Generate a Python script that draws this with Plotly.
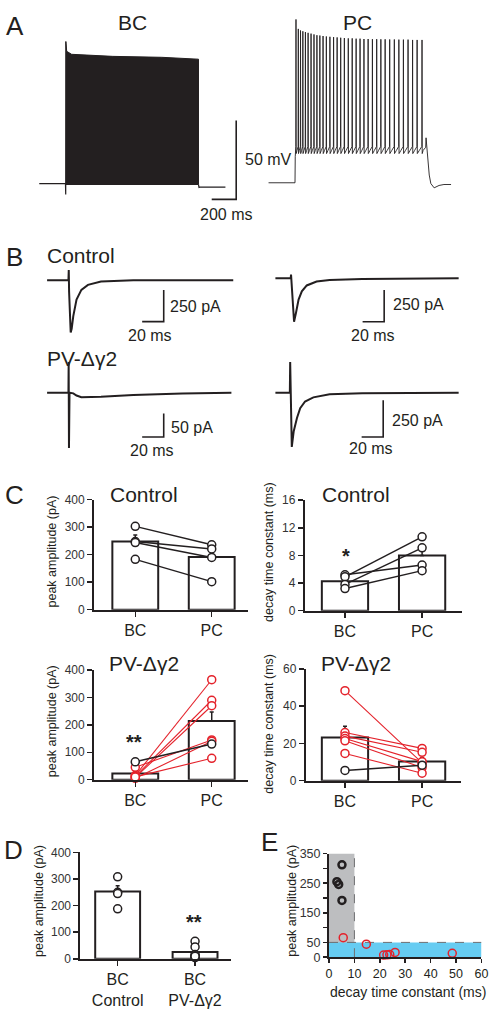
import plotly.graph_objects as go

W, H = 497, 1029
INK = "#231f20"
RED = "#e4222b"
FONT = "Liberation Sans, Arial, sans-serif"

# ======================= DATA =======================
# Panel A - membrane potential (time in ms, voltage in mV)
bc_pre_t = [0, 214, 216, 216.5, 217]
bc_pre_v = [-65, -65, -72, 25, 25]
bc_top_t = [217, 224, 264, 600, 1000, 1300]          # envelope of the dense BC spike train
bc_top_v = [25, 18.8, 16.9, 15.6, 15.0, 13.8]
bc_bottom_v = -65.6
bc_post_t = [1300, 1304, 1310, 1520]
bc_post_v = [-65.6, -67.5, -67.3, -67.3]

pc_pre_t = [0, 216, 218]
pc_pre_v = [-64.5, -64.5, -48]
pc_spike_t = [224, 243, 261, 280, 301, 323, 347, 371, 395, 419, 445, 472, 501, 531,
              560, 589, 619, 651, 683, 715, 747, 779, 813, 848, 883, 917, 952, 989,
              1027, 1064, 1101, 1139, 1176, 1213, 1253]
pc_spike_v = [39, 33, 32, 31.5, 31, 30.5, 30, 29.5, 29, 28.8, 28.5, 28.2, 28, 27.8,
              27.6, 27.4, 27.2, 27, 27, 26.8, 26.8, 26.6, 26.6, 26.5, 26.5, 26.4, 26.4,
              26.3, 26.3, 26.2, 26.2, 26.2, 26, 26, 26]
pc_threshold_v = -41.5
pc_ahp_v = -46.0
pc_adp_v = -44.0
pc_post_t = [1262, 1283, 1286, 1299, 1312, 1325, 1352, 1392, 1432, 1490]
pc_post_v = [-44, -42, -36, -51, -59.6, -65, -67.7, -66.2, -65.6, -65.6]
scale_a = (200, 50)  # ms, mV

# Panel B - IPSCs (time in ms, current in pA)
b_ctrl_bc_t = [0, 19.8, 20.1, 20.4, 21.9, 22.8, 24.3, 27.3, 31.8, 37.9, 50, 80, 172.7]
b_ctrl_bc_i = [0, 0, 80, -90, -414, -385, -284, -154, -76, -37, -10, 0, 0]
b_ctrl_pc_t = [0, 14.2, 14.5, 14.8, 17.3, 19.1, 21.5, 24.5, 29.1, 38.2, 50.3, 80.6, 120, 170]
b_ctrl_pc_i = [0, 0, 30, -20, -344, -273, -169, -104, -57, -26, -13, -5, -2, 0]
b_pv_bc_t = [0, 19.8, 20.0, 20.3, 20.8, 24.3, 27.3, 31.8, 37.9, 50, 80, 125.5, 171]
b_pv_bc_i = [0, 0, 64.6, -116.7, 0, -1.5, -6, -9.5, -9.7, -8.5, -5, -1.5, 0]
b_pv_pc_t = [0, 13.4, 13.7, 15.2, 17, 20, 23, 27.5, 35.2, 50.3, 80.6, 120, 170]
b_pv_pc_i = [0, 0, 208, -369, -262, -172, -105, -60, -32, -11, -4.5, -2, 0]
scale_b = [(20, 250), (20, 250), (20, 50), (20, 250)]

# Panel C
cats = ["BC", "PC"]
c_ctrl_amp_bar = [248, 192]
c_ctrl_amp_err = [24, 26]
c_ctrl_amp_bc = [303, 248, 244, 183]
c_ctrl_amp_pc = [236, 221, 190, 102]
c_ctrl_tau_bar = [4.25, 8.0]
c_ctrl_tau_err = [0.5, 1.1]
c_ctrl_tau_bc = [5.2, 4.9, 3.8, 3.2]
c_ctrl_tau_pc = [6.6, 10.7, 9.1, 5.8]

c_pv_amp_bar = [22, 214]
c_pv_amp_err = [8, 33]
c_pv_amp_bc_black = [65]
c_pv_amp_pc_black = [130]
c_pv_amp_bc_red = [45, 15, 12, 8, 5, 10]
c_pv_amp_pc_red = [145, 365, 290, 270, 140, 78]
c_pv_tau_bar = [23.2, 10.3]
c_pv_tau_err = [6, 2]
c_pv_tau_bc_black = [5.5]
c_pv_tau_pc_black = [8.3]
c_pv_tau_bc_red = [48.3, 25.8, 23.9, 22.6, 21.4, 14.6]
c_pv_tau_pc_red = [9.5, 17.3, 15.2, 10.2, 7.0, 4.0]

# Panel D
d_cats = ["BC<br>Control", "BC<br>PV-Δγ2"]
d_bar = [253, 26]
d_err = [22, 9]
d_ctrl_pts = [308, 250, 245, 188]
d_pv_pts = [66, 45, 16, 12, 8, 5, 10]

# Panel E
e_ctrl_tau = [5.1, 3.1, 3.8, 5.1]
e_ctrl_amp = [312, 255, 246, 192]
e_pv_tau = [5.6, 14.7, 21.5, 22.8, 23.9, 26.0, 48.5]
e_pv_amp = [66, 44, 7, 8, 9, 16, 13]
e_tau_cut = 10
e_amp_cut = 50

# ======================= FIGURE =======================
fig = go.Figure()
layout = dict(width=W, height=H, autosize=False, margin=dict(l=0, r=0, t=0, b=0),
              paper_bgcolor="white", plot_bgcolor="rgba(0,0,0,0)", showlegend=False,
              font=dict(family=FONT, color=INK))
annotations = []
shapes = []


def sfx(n):
    return "" if n == 1 else str(n)


def dom_x(a, b):
    return [a / W, b / W]


def dom_y(top, bot):
    return [1 - bot / H, 1 - top / H]


def hidden_axes(n, x0, x1, y0, y1, ref_px, ref_x, sx, ref_py, ref_y, sy):
    xr = [ref_x + (x0 - ref_px) / sx, ref_x + (x1 - ref_px) / sx]
    yr = [ref_y - (y1 - ref_py) / sy, ref_y - (y0 - ref_py) / sy]
    layout["xaxis" + sfx(n)] = dict(domain=dom_x(x0, x1), range=xr, visible=False,
                                    anchor="y" + sfx(n), fixedrange=True)
    layout["yaxis" + sfx(n)] = dict(domain=dom_y(y0, y1), range=yr, visible=False,
                                    anchor="x" + sfx(n), fixedrange=True)


AX = dict(showline=True, linewidth=2, linecolor=INK, ticks="outside", ticklen=5,
          tickwidth=1.5, tickcolor=INK, showgrid=False, zeroline=False, fixedrange=True)


def data_axes(n, x0, x1, y0, y1, xr, yr, xtype="category", xtickfont=16, ytickfont=12,
              **kw):
    xa = dict(AX, domain=dom_x(x0, x1), range=xr, anchor="y" + sfx(n), type=xtype,
              tickfont=dict(size=xtickfont, color=INK, family=FONT))
    ya = dict(AX, domain=dom_y(y0, y1), range=yr, anchor="x" + sfx(n),
              tickfont=dict(size=ytickfont, color="#333333", family=FONT))
    xa.update(kw.get("xextra", {}))
    ya.update(kw.get("yextra", {}))
    layout["xaxis" + sfx(n)] = xa
    layout["yaxis" + sfx(n)] = ya


def line(n, x, y, width, color=INK, **kw):
    fig.add_trace(go.Scatter(x=x, y=y, mode="lines", line=dict(color=color, width=width),
                             xaxis="x" + sfx(n), yaxis="y" + sfx(n), hoverinfo="skip",
                             cliponaxis=False, **kw))


def scalebar(n, corner_x, corner_y, dx, dy, width=1.6):
    line(n, [corner_x - dx, corner_x, corner_x], [corner_y, corner_y, corner_y + dy], width)


def text(px, py, s, size, xanchor="center", angle=0, color=INK):
    annotations.append(dict(x=px / W, y=1 - py / H, xref="paper", yref="paper", text=s,
                            showarrow=False, xanchor=xanchor, yanchor="middle",
                            textangle=angle,
                            font=dict(size=size, color=color, family=FONT)))


# ---------------- Panel A ----------------
hidden_axes(1, 30, 300, 0, 225, 37, 0, 0.125, 179, -65, 1.6)
hidden_axes(2, 265, 470, 0, 225, 271, 0, 0.125, 179, -65, 1.6)

line(1, bc_pre_t, bc_pre_v, 1.2)
line(1, bc_top_t + [bc_top_t[-1], bc_top_t[0]], bc_top_v + [bc_bottom_v, bc_bottom_v], 1,
     fill="toself", fillcolor=INK)
line(1, bc_post_t, bc_post_v, 1.2)
scalebar(1, 1608, -75, scale_a[0], scale_a[1])

pc_t = list(pc_pre_t)
pc_v = list(pc_pre_v)
for i, (ts, vp) in enumerate(zip(pc_spike_t, pc_spike_v)):
    pc_t += [ts - 1.5, ts, ts + 1.5]
    pc_v += [pc_threshold_v, vp, pc_ahp_v]
    if i < len(pc_spike_t) - 1:
        pc_t.append(ts + 0.45 * (pc_spike_t[i + 1] - ts))
        pc_v.append(pc_adp_v)
pc_t += pc_post_t
pc_v += pc_post_v
line(2, pc_t, pc_v, 0.9)

# ---------------- Panel B ----------------
hidden_axes(3, 40, 240, 240, 345, 45, 0, 1.1, 277, 0, 0.128)
hidden_axes(4, 270, 470, 240, 345, 278, 0, 1.1, 275, 0, 0.128)
hidden_axes(5, 40, 240, 350, 460, 45, 0, 1.1, 391, 0, 0.48)
hidden_axes(6, 270, 470, 350, 460, 278, 0, 1.1, 391, 0, 0.149)

line(3, b_ctrl_bc_t, b_ctrl_bc_i, 2)
line(4, b_ctrl_pc_t, b_ctrl_pc_i, 2)
line(5, b_pv_bc_t, b_pv_bc_i, 2)
line(6, b_pv_pc_t, b_pv_pc_i, 2)
scalebar(3, 108.2, -328, scale_b[0][0], scale_b[0][1])
scalebar(4, 100.9, -344, scale_b[1][0], scale_b[1][1])
scalebar(5, 108.2, -93.75, scale_b[2][0], scale_b[2][1])
scalebar(6, 100.0, -302, scale_b[3][0], scale_b[3][1])


# ---------------- Panel C ----------------
def cat_range(x_axis_px, x_end_px, first_px, step_px):
    return [(x_axis_px - first_px) / step_px, (x_end_px - first_px) / step_px]


data_axes(7, 93, 250, 499.5, 611, cat_range(93, 250, 135, 78), [0, 400],
          yextra=dict(tickvals=[0, 100, 200, 300, 400]))
data_axes(8, 308, 468, 500, 612, cat_range(308, 468, 349, 78.7), [0, 16],
          yextra=dict(tickvals=[0, 4, 8, 12, 16]))
data_axes(9, 93, 250, 672.3, 783.3, cat_range(93, 250, 135, 78), [0, 400],
          yextra=dict(tickvals=[0, 100, 200, 300, 400]))
data_axes(10, 309, 467, 671, 784.3, cat_range(309, 467, 349, 78.7), [0, 60],
          yextra=dict(tickvals=[0, 20, 40, 60]))


def bars(n, xs, vals, errs, width):
    fig.add_trace(go.Bar(x=xs, y=vals, width=width,
                         marker=dict(color="white", line=dict(color=INK, width=2)),
                         error_y=dict(type="data", array=errs, arrayminus=[0] * len(errs),
                                      symmetric=False, color=INK, thickness=1.5, width=2),
                         xaxis="x" + sfx(n), yaxis="y" + sfx(n), hoverinfo="skip"))


def pairs(n, a, b, color, lw):
    for va, vb in zip(a, b):
        fig.add_trace(go.Scatter(x=cats, y=[va, vb], mode="lines+markers",
                                 line=dict(color=color, width=lw),
                                 marker=dict(symbol="circle", size=8, color="white",
                                             line=dict(color=color, width=1.5)),
                                 xaxis="x" + sfx(n), yaxis="y" + sfx(n),
                                 hoverinfo="skip", cliponaxis=False))


bars(7, cats, c_ctrl_amp_bar, c_ctrl_amp_err, 0.6)
pairs(7, c_ctrl_amp_bc, c_ctrl_amp_pc, INK, 1.5)
bars(8, cats, c_ctrl_tau_bar, c_ctrl_tau_err, 0.6)
pairs(8, c_ctrl_tau_bc, c_ctrl_tau_pc, INK, 1.5)
bars(9, cats, c_pv_amp_bar, c_pv_amp_err, 0.6)
pairs(9, c_pv_amp_bc_red, c_pv_amp_pc_red, RED, 1.1)
pairs(9, c_pv_amp_bc_black, c_pv_amp_pc_black, INK, 1.5)
bars(10, cats, c_pv_tau_bar, c_pv_tau_err, 0.6)
pairs(10, c_pv_tau_bc_red, c_pv_tau_pc_red, RED, 1.1)
pairs(10, c_pv_tau_bc_black, c_pv_tau_pc_black, INK, 1.5)

# ---------------- Panel D ----------------
data_axes(11, 79, 233, 857, 965, cat_range(79, 233, 117, 79), [0, 400],
          yextra=dict(tickvals=[0, 100, 200, 300, 400]))
bars(11, d_cats, d_bar, d_err, 0.58)
for grp, pts in zip(d_cats, [d_ctrl_pts, d_pv_pts]):
    fig.add_trace(go.Scatter(x=[grp] * len(pts), y=pts, mode="markers",
                             marker=dict(symbol="circle", size=8, color="white",
                                         line=dict(color=INK, width=1.5)),
                             xaxis="x11", yaxis="y11", hoverinfo="skip", cliponaxis=False))

# ---------------- Panel E ----------------
data_axes(12, 332.7, 488.3, 858.3, 963.3, [0, 60], [0, 350], xtype="linear",
          xtickfont=12.5, ytickfont=12.5,
          xextra=dict(tickvals=[0, 10, 20, 30, 40, 50, 60], ticklen=4),
          yextra=dict(tickvals=[0, 50, 100, 150, 200, 250, 300, 350],
                      ticktext=["0", "50", "", "150", "", "250", "", "350"], ticklen=4))
shapes += [
    dict(type="rect", xref="x12", yref="y12", x0=0, x1=e_tau_cut, y0=0, y1=350,
         fillcolor="#bdbec0", line=dict(width=0), layer="below"),
    dict(type="rect", xref="x12", yref="y12", x0=0, x1=60, y0=0, y1=e_amp_cut,
         fillcolor="#66ccf2", line=dict(width=0), layer="below"),
    dict(type="line", xref="x12", yref="y12", x0=e_tau_cut, x1=e_tau_cut, y0=0, y1=350,
         line=dict(color="#6d6e71", width=1, dash="dash"), layer="below"),
    dict(type="line", xref="x12", yref="y12", x0=0, x1=60, y0=e_amp_cut, y1=e_amp_cut,
         line=dict(color="#6d6e71", width=1, dash="dash"), layer="below"),
]
fig.add_trace(go.Scatter(x=e_ctrl_tau, y=e_ctrl_amp, mode="markers",
                         marker=dict(symbol="circle-open", size=7, color=INK,
                                     line=dict(width=2.5)),
                         xaxis="x12", yaxis="y12", hoverinfo="skip", cliponaxis=False))
fig.add_trace(go.Scatter(x=e_pv_tau, y=e_pv_amp, mode="markers",
                         marker=dict(symbol="circle-open", size=8, color=RED,
                                     line=dict(width=1.5)),
                         xaxis="x12", yaxis="y12", hoverinfo="skip", cliponaxis=False))

# ---------------- Text ----------------
for letter, px, py in [("A", 12, 19), ("B", 12, 253), ("C", 12, 495), ("D", 11, 855),
                       ("E", 271.5, 847)]:
    text(px, py, letter, 26)

text(132, 16, "BC", 21)
text(362, 16, "PC", 21)
text(245, 155, "50 mV", 16, xanchor="left")
text(228, 210, "200 ms", 16)

text(43, 251.5, "Control", 21, xanchor="left")
text(43, 356.5, "PV-Δγ2", 21, xanchor="left")
text(168, 304, "250 pA", 16, xanchor="left")
text(150.5, 333, "20 ms", 16)
text(396, 302, "250 pA", 16, xanchor="left")
text(377.5, 333, "20 ms", 16)
text(169, 426, "50 pA", 16, xanchor="left")
text(152, 450, "20 ms", 16)
text(395, 419, "250 pA", 16, xanchor="left")
text(376, 448, "20 ms", 16)

text(144, 494, "Control", 21)
text(360, 494, "Control", 21)
text(143.5, 666, "PV-Δγ2", 21)
text(360, 666, "PV-Δγ2", 21)

text(50, 552, "peak amplitude (pA)", 12.5, angle=-90)
text(272, 553, "decay time constant (ms)", 12.5, angle=-90)
text(50, 724, "peak amplitude (pA)", 12.5, angle=-90)
text(272, 727, "decay time constant (ms)", 12.5, angle=-90)
text(36, 906, "peak amplitude (pA)", 12.5, angle=-90)
text(295, 906, "peak amplitude (pA)", 12.5, angle=-90)
text(413, 999, "decay time constant (ms)", 14)

text(350, 557, "<b>*</b>", 20)
text(134, 745, "<b>**</b>", 20)
text(195, 928, "<b>**</b>", 20)

layout["annotations"] = annotations
layout["shapes"] = shapes
layout["bargap"] = 0
fig.update_layout(**layout)

fig.write_html("out.html", config={"displayModeBar": False, "staticPlot": True},
               post_script="document.body.style.margin='0px';"
                           "document.body.style.overflow='hidden';")
